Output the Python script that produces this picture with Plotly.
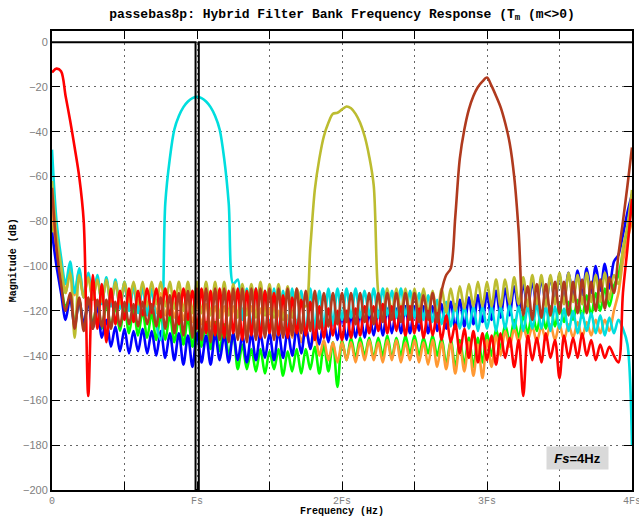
import plotly.graph_objects as go

# Frequency sampling grid (Hz); Fs = 4 Hz, axis spans 0 .. 4Fs
FREQ_HZ = [
    0.0, 0.125, 0.25, 0.375, 0.5, 0.625, 0.75, 0.875,
    1.0, 1.125, 1.25, 1.375, 1.5, 1.625, 1.75, 1.875,
    2.0, 2.125, 2.25, 2.375, 2.5, 2.625, 2.75, 2.875,
    3.0, 3.125, 3.25, 3.375, 3.5, 3.625, 3.75, 3.875,
    4.0, 4.125, 4.25, 4.375, 4.5, 4.625, 4.75, 4.875,
    5.0, 5.125, 5.25, 5.375, 5.5, 5.625, 5.75, 5.875,
    6.0, 6.125, 6.25, 6.375, 6.5, 6.625, 6.75, 6.875,
    7.0, 7.125, 7.25, 7.375, 7.5, 7.625, 7.75, 7.875,
    8.0, 8.125, 8.25, 8.375, 8.5, 8.625, 8.75, 8.875,
    9.0, 9.125, 9.25, 9.375, 9.5, 9.625, 9.75, 9.875,
    10.0, 10.125, 10.25, 10.375, 10.5, 10.625, 10.75, 10.875,
    11.0, 11.125, 11.25, 11.375, 11.5, 11.625, 11.75, 11.875,
    12.0, 12.125, 12.25, 12.375, 12.5, 12.625, 12.75, 12.875,
    13.0, 13.125, 13.25, 13.375, 13.5, 13.625, 13.75, 13.875,
    14.0, 14.125, 14.25, 14.375, 14.5, 14.625, 14.75, 14.875,
    15.0, 15.125, 15.25, 15.375, 15.5, 15.625, 15.75, 15.875,
    16.0,
]

RED_DB = [
    -13.5, -11.8, -13.0, -24.0, -35.0, -47.0, -60.0, -80.0,
    -158.0, -104.0, -128.0, -108.0, -134.0, -110.0, -126.0, -111.0,
    -124.0, -110.0, -125.0, -111.0, -122.0, -110.0, -121.0, -110.0,
    -123.0, -110.0, -122.0, -111.0, -126.0, -110.0, -124.0, -111.0,
    -128.0, -110.0, -130.0, -111.0, -131.0, -110.0, -132.0, -111.0,
    -130.0, -110.0, -133.0, -111.0, -131.0, -110.0, -132.0, -111.0,
    -130.0, -112.0, -131.0, -113.0, -132.0, -114.0, -130.0, -115.0,
    -131.0, -116.0, -133.0, -118.0, -132.0, -119.0, -131.0, -120.0,
    -133.0, -120.0, -132.0, -119.0, -131.0, -118.0, -130.0, -118.0,
    -129.0, -117.0, -130.0, -118.0, -129.0, -118.0, -131.0, -118.0,
    -130.0, -119.0, -132.0, -120.0, -131.0, -121.0, -133.0, -122.0,
    -134.0, -126.0, -139.0, -128.0, -141.0, -129.0, -143.0, -130.0,
    -142.0, -131.0, -144.0, -130.0, -141.0, -132.0, -145.0, -133.0,
    -158.0, -131.0, -142.0, -132.0, -143.0, -130.0, -141.0, -133.0,
    -150.0, -131.0, -141.0, -132.0, -141.0, -130.0, -140.0, -133.0,
    -142.0, -135.0, -141.0, -136.0, -140.0, -143.0, -112.0, -92.0,
    -70.0,
]

CYAN_DB = [
    -48.0, -80.0, -96.0, -108.0, -98.0, -112.0, -101.0, -114.0,
    -103.0, -115.0, -104.0, -117.0, -105.0, -118.0, -106.0, -119.0,
    -107.0, -120.0, -108.0, -121.0, -109.0, -122.0, -110.0, -126.0,
    -133.0, -72.0, -52.0, -39.0, -33.0, -29.0, -26.5, -25.0,
    -24.4, -25.0, -26.5, -29.0, -33.0, -39.0, -52.0, -72.0,
    -108.0, -106.0, -124.0, -110.0, -128.0, -110.0, -130.0, -111.0,
    -129.0, -110.0, -131.0, -111.0, -130.0, -110.0, -129.0, -111.0,
    -130.0, -110.0, -128.0, -111.0, -127.0, -110.0, -126.0, -110.0,
    -124.0, -110.0, -123.0, -110.0, -123.0, -111.0, -122.0, -110.0,
    -123.0, -110.0, -122.0, -111.0, -123.0, -110.0, -122.0, -111.0,
    -123.0, -112.0, -124.0, -113.0, -125.0, -115.0, -126.0, -116.0,
    -127.0, -117.0, -128.0, -118.0, -128.0, -118.0, -129.0, -118.0,
    -128.0, -118.0, -129.0, -118.0, -128.0, -117.0, -128.0, -118.0,
    -129.0, -118.0, -128.0, -117.0, -128.0, -118.0, -129.0, -118.0,
    -128.0, -119.0, -129.0, -120.0, -130.0, -121.0, -129.0, -121.0,
    -130.0, -122.0, -131.0, -123.0, -130.0, -124.0, -128.0, -135.0,
    -180.0,
]

OLIVE_DB = [
    -62.0, -86.0, -100.0, -112.0, -103.0, -132.0, -104.0, -114.0,
    -105.0, -115.0, -106.0, -116.0, -106.0, -116.0, -107.0, -117.0,
    -107.0, -116.0, -107.0, -117.0, -107.0, -118.0, -107.0, -117.0,
    -107.0, -118.0, -107.0, -119.0, -107.0, -120.0, -107.0, -121.0,
    -107.0, -121.0, -107.0, -122.0, -107.0, -123.0, -107.0, -122.0,
    -108.0, -123.0, -108.0, -122.0, -108.0, -123.0, -107.0, -122.0,
    -108.0, -123.0, -108.0, -124.0, -109.0, -123.0, -110.0, -116.0,
    -118.0, -92.0, -66.0, -52.0, -42.0, -36.0, -32.0, -31.5,
    -30.0, -28.7, -29.5, -32.0, -36.0, -42.0, -51.0, -64.0,
    -112.0, -122.0, -110.0, -121.0, -110.0, -120.0, -110.0, -121.0,
    -110.0, -120.0, -110.0, -121.0, -111.0, -122.0, -110.0, -121.0,
    -110.0, -120.0, -109.0, -119.0, -108.0, -118.0, -107.0, -118.0,
    -107.0, -118.0, -106.0, -118.0, -106.0, -117.0, -105.0, -117.0,
    -105.0, -118.0, -104.0, -117.0, -104.0, -118.0, -104.0, -117.0,
    -103.0, -117.0, -103.0, -116.0, -104.0, -117.0, -103.0, -116.0,
    -104.0, -116.0, -103.0, -115.0, -104.0, -108.0, -92.0, -82.0,
    -66.0,
]

BROWN_DB = [
    -65.0, -92.0, -108.0, -120.0, -112.0, -128.0, -114.0, -129.0,
    -114.0, -128.0, -115.0, -127.0, -115.0, -128.0, -116.0, -127.0,
    -116.0, -126.0, -117.0, -127.0, -116.0, -126.0, -117.0, -127.0,
    -114.0, -128.0, -113.0, -130.0, -112.0, -131.0, -111.0, -132.0,
    -110.0, -133.0, -110.0, -134.0, -110.0, -133.0, -110.0, -134.0,
    -110.0, -133.0, -110.0, -134.0, -110.0, -133.0, -110.0, -132.0,
    -110.0, -133.0, -110.0, -132.0, -110.0, -131.0, -110.0, -130.0,
    -111.0, -129.0, -111.0, -128.0, -112.0, -127.0, -112.0, -126.0,
    -112.0, -125.0, -112.0, -126.0, -112.0, -125.0, -112.0, -126.0,
    -112.0, -125.0, -112.0, -124.0, -112.0, -125.0, -112.0, -124.0,
    -112.0, -125.0, -113.0, -124.0, -112.0, -125.0, -111.0, -104.0,
    -101.0, -78.0, -52.0, -39.0, -30.0, -24.0, -20.0, -17.5,
    -15.8, -19.5, -24.0, -29.0, -36.0, -45.0, -60.0, -85.0,
    -122.0, -109.0, -124.0, -108.0, -123.0, -108.0, -122.0, -107.0,
    -121.0, -107.0, -122.0, -107.0, -121.0, -106.0, -121.0, -107.0,
    -120.0, -106.0, -119.0, -105.0, -112.0, -95.0, -80.0, -64.0,
    -47.0,
]

BLUE_DB = [
    -85.0, -100.0, -112.0, -124.0, -114.0, -127.0, -115.0, -126.0,
    -116.0, -128.0, -118.0, -132.0, -124.0, -136.0, -127.0, -138.0,
    -128.0, -139.0, -129.0, -138.0, -128.0, -139.0, -129.0, -140.0,
    -129.0, -141.0, -130.0, -142.0, -130.0, -144.0, -131.0, -145.0,
    -130.0, -143.0, -131.0, -144.0, -130.0, -142.0, -131.0, -143.0,
    -130.0, -142.0, -131.0, -143.0, -130.0, -142.0, -130.0, -141.0,
    -130.0, -142.0, -129.0, -141.0, -129.0, -140.0, -128.0, -139.0,
    -127.0, -137.0, -125.0, -135.0, -124.0, -134.0, -123.0, -133.0,
    -122.0, -133.0, -122.0, -132.0, -121.0, -132.0, -121.0, -131.0,
    -120.0, -131.0, -119.0, -130.0, -119.0, -130.0, -118.0, -130.0,
    -118.0, -129.0, -118.0, -130.0, -118.0, -129.0, -117.0, -128.0,
    -116.0, -128.0, -115.0, -127.0, -114.0, -126.0, -113.0, -125.0,
    -112.0, -124.0, -111.0, -123.0, -110.0, -122.0, -109.0, -120.0,
    -108.0, -119.0, -107.0, -118.0, -106.0, -117.0, -105.0, -116.0,
    -104.0, -115.0, -103.0, -114.0, -102.0, -113.0, -101.0, -112.0,
    -100.0, -111.0, -99.0, -110.0, -98.0, -95.0, -86.0, -76.0,
    -68.0,
]

GREEN_DB = [
    -78.0, -96.0, -108.0, -118.0, -114.0, -126.0, -115.0, -127.0,
    -115.0, -126.0, -116.0, -128.0, -117.0, -127.0, -118.0, -129.0,
    -118.0, -130.0, -119.0, -131.0, -120.0, -132.0, -121.0, -133.0,
    -122.0, -133.0, -122.0, -134.0, -123.0, -135.0, -123.0, -136.0,
    -124.0, -136.0, -125.0, -137.0, -125.0, -138.0, -126.0, -140.0,
    -130.0, -146.0, -135.0, -146.0, -137.0, -147.0, -137.0, -148.0,
    -138.0, -146.0, -137.0, -149.0, -138.0, -147.0, -137.0, -148.0,
    -137.0, -146.0, -136.0, -148.0, -135.0, -147.0, -134.0, -154.0,
    -133.0, -142.0, -132.0, -141.0, -132.0, -140.0, -132.0, -141.0,
    -132.0, -140.0, -131.0, -141.0, -132.0, -140.0, -131.0, -139.0,
    -131.0, -140.0, -132.0, -139.0, -131.0, -140.0, -132.0, -144.0,
    -133.0, -145.0, -133.0, -144.0, -132.0, -145.0, -132.0, -143.0,
    -130.0, -140.0, -128.0, -137.0, -126.0, -134.0, -124.0, -132.0,
    -122.0, -130.0, -121.0, -129.0, -120.0, -128.0, -118.0, -127.0,
    -117.0, -125.0, -116.0, -124.0, -115.0, -123.0, -113.0, -122.0,
    -112.0, -120.0, -110.0, -118.0, -109.0, -104.0, -94.0, -84.0,
    -74.0,
]

ORANGE_DB = [
    -72.0, -94.0, -99.0, -112.0, -100.0, -113.0, -102.0, -114.0,
    -104.0, -115.0, -105.0, -116.0, -106.0, -117.0, -108.0, -118.0,
    -109.0, -119.0, -110.0, -120.0, -110.0, -120.0, -111.0, -121.0,
    -112.0, -122.0, -113.0, -123.0, -114.0, -124.0, -115.0, -125.0,
    -116.0, -126.0, -117.0, -127.0, -118.0, -128.0, -118.0, -129.0,
    -118.0, -129.0, -119.0, -129.0, -118.0, -128.0, -119.0, -129.0,
    -119.0, -130.0, -120.0, -131.0, -122.0, -132.0, -124.0, -134.0,
    -127.0, -137.0, -130.0, -140.0, -133.0, -142.0, -134.0, -143.0,
    -134.0, -142.0, -134.0, -143.0, -134.0, -142.0, -133.0, -142.0,
    -134.0, -143.0, -133.0, -142.0, -133.0, -143.0, -134.0, -142.0,
    -133.0, -143.0, -134.0, -144.0, -133.0, -145.0, -134.0, -146.0,
    -134.0, -148.0, -135.0, -147.0, -134.0, -149.0, -135.0, -150.0,
    -133.0, -145.0, -131.0, -140.0, -129.0, -136.0, -128.0, -134.0,
    -127.0, -133.0, -127.0, -134.0, -127.0, -133.0, -126.0, -133.0,
    -126.0, -133.0, -126.0, -132.0, -125.0, -132.0, -125.0, -131.0,
    -124.0, -130.0, -124.0, -129.0, -120.0, -112.0, -98.0, -88.0,
    -80.0,
]

# Overall (black) response: flat 0 dB with a notch at Fs
BLACK_FREQ_HZ = [0.0, 3.96, 3.96, 4.05, 4.05, 16.0]
BLACK_DB = [0.0, 0.0, -200.0, -200.0, 0.0, 0.0]

X_TICK_VALS = [0, 2, 4, 6, 8, 10, 12, 14, 16]
X_TICK_TEXT = ["0", "", "Fs", "", "2Fs", "", "3Fs", "", "4Fs"]
Y_TICK_VALS = [-200, -180, -160, -140, -120, -100, -80, -60, -40, -20, 0]

SERIES = [
    ("green", GREEN_DB, "#00ff00"),
    ("orange", ORANGE_DB, "#ff9933"),
    ("blue", BLUE_DB, "#0000ff"),
    ("cyan", CYAN_DB, "#00dede"),
    ("olive", OLIVE_DB, "#bcbc30"),
    ("red", RED_DB, "#ff0000"),
    ("brown", BROWN_DB, "#b03a1e"),
]

fig = go.Figure()
for name, vals, color in SERIES:
    fig.add_trace(go.Scatter(
        x=FREQ_HZ, y=vals, mode="lines", name=name,
        line=dict(color=color, width=2.6, shape="spline", smoothing=0.9),
        hoverinfo="skip",
    ))
fig.add_trace(go.Scatter(
    x=BLACK_FREQ_HZ, y=BLACK_DB, mode="lines", name="total",
    line=dict(color="black", width=2), hoverinfo="skip",
))

mono = "Liberation Mono, Courier New, monospace"
sans = "Liberation Sans, Arial, sans-serif"

fig.update_layout(
    width=639, height=518,
    margin=dict(l=52, r=7, t=31, b=28, autoexpand=False),
    paper_bgcolor="white", plot_bgcolor="white",
    showlegend=False,
    title=dict(
        text="<b>passebas8p: Hybrid Filter Bank Frequency Response (T<sub>m</sub> (m&lt;&gt;0)</b>",
        x=0.5, xref="paper", xanchor="center",
        y=1 - 13 / 518, yref="container", yanchor="middle",
        font=dict(family=mono, size=13, color="black"),
    ),
    annotations=[
        dict(text="<b>Frequency (Hz)</b>", xref="paper", yref="paper",
             x=0.5, y=-0.046, xanchor="center", yanchor="middle",
             showarrow=False, font=dict(family=mono, size=10, color="black")),
        dict(text="<b>Magnitude (dB)</b>", xref="paper", yref="paper",
             x=-0.066, y=0.5, xanchor="center", yanchor="middle", textangle=-90,
             showarrow=False, font=dict(family=mono, size=10, color="black")),
        dict(text="<b><i>Fs</i>=4Hz</b>", xref="x", yref="y",
             x=14.5, y=-185.7, xanchor="center", yanchor="middle",
             showarrow=False, bgcolor="#d9d9d9", width=59, height=20,
             font=dict(family=sans, size=13, color="black")),
    ],
)

fig.update_xaxes(
    range=[0, 16], tickmode="array", tickvals=X_TICK_VALS, ticktext=X_TICK_TEXT,
    ticks="inside", ticklen=8, tickwidth=1, tickcolor="black",
    showline=True, linecolor="black", linewidth=2, mirror="ticks",
    showgrid=True, gridcolor="#666666", gridwidth=1, griddash="1.5px,4.5px",
    zeroline=False, automargin=False, ticklabeloverflow="allow",
    tickfont=dict(family=mono, size=10, color="#808080"),
)
fig.update_yaxes(
    range=[-200, 5], tickmode="array", tickvals=Y_TICK_VALS,
    ticks="inside", ticklen=8, tickwidth=1, tickcolor="black",
    showline=True, linecolor="black", linewidth=2, mirror="ticks",
    showgrid=True, gridcolor="#666666", gridwidth=1, griddash="1.5px,4.5px",
    zeroline=False, automargin=False,
    tickfont=dict(family=sans, size=11, color="#808080"),
)

fig.write_html(
    "out.html",
    config={"displayModeBar": False},
    post_script="document.body.style.margin='0';document.body.style.padding='0';document.body.style.overflow='hidden';",
)
